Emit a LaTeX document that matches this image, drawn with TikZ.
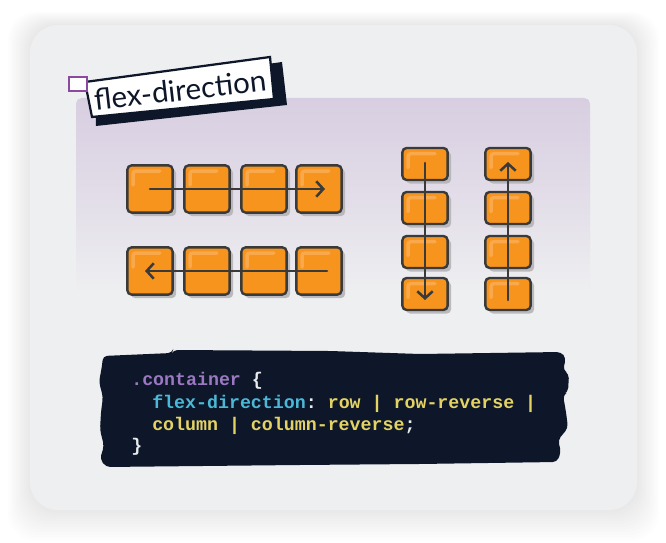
\documentclass[tikz,border=0pt]{standalone}
\usepackage{fontspec}
\setmainfont{Lato}
\setmonofont{Liberation Mono}
\usetikzlibrary{calc,arrows.meta,shadows}
\definecolor{cardgray}{HTML}{EEEFF1}
\definecolor{panelpurple}{HTML}{D8CEE1}
\definecolor{boxorange}{HTML}{F7941D}
\definecolor{boxlight}{HTML}{F9A94B}
\definecolor{boxshadow}{HTML}{B4B4B9}
\definecolor{inkgray}{HTML}{3A3A3A}
\definecolor{navy}{HTML}{0D1729}
\definecolor{tagpurple}{HTML}{8C4A9E}
\definecolor{codepurple}{HTML}{9A78C2}
\definecolor{codecyan}{HTML}{4CB8D7}
\definecolor{codeyellow}{HTML}{E4D263}
\definecolor{codewhite}{HTML}{E9EAEC}
\def\tok#1#2{{\color{#1}#2}}
\tikzset{
	flexbox/.style={draw=inkgray, line width=1.7pt, fill=boxorange, rounded corners=3pt, minimum width=1.13cm, minimum height=1.18cm, inner sep=0pt,
		drop shadow={shadow xshift=2.5pt, shadow yshift=-2.5pt, fill=boxshadow, opacity=0.9},
		path picture={\draw[boxlight, line width=2.5pt, line cap=round, rounded corners=2pt] ($(path picture bounding box.north west)+(4pt,-14pt)$) -- ($(path picture bounding box.north west)+(4pt,-4pt)$) -- ($(path picture bounding box.north east)+(-9pt,-4pt)$);}},
	colbox/.style={flexbox, minimum height=0.8cm},
	flow/.style={draw=inkgray, line width=1.8pt, line cap=round, -{Straight Barb[length=5pt, width=11pt, line width=1.8pt]}},
	codeline/.style={anchor=base west, inner sep=0pt, font=\ttfamily\bfseries\fontsize{13}{13}\selectfont}
}
\begin{document}
\begin{tikzpicture}[x=0.025cm, y=-0.025cm]
	\useasboundingbox (0,0) rectangle (666,543);
	\fill[white] (0,0) rectangle (666,543);
	
	\foreach \s in {2,4,...,22}
		\fill[black, opacity=0.006, rounded corners=0.7cm] (30-\s,25-\s+0.4*\s) rectangle (637+\s,510+\s+0.4*\s);
	\fill[cardgray, rounded corners=0.7cm] (30,25) rectangle (637,510);
	
	\shade[top color=panelpurple, bottom color=cardgray, middle color=panelpurple!55!cardgray, rounded corners=4pt] (76,98) rectangle (590,292);
	
	\fill[navy] (95,88) -- (282,62) -- (287,105) -- (96,126) -- cycle;
	\draw[navy, line width=1.6pt, fill=white] (85,82) -- (270,57) -- (274,99) -- (92,117) -- cycle;
	\node[rotate=6.5, text=navy, font=\fontsize{21}{21}\selectfont] (title) at (180,90) {flex-direction};
	\draw[tagpurple, line width=1.5pt, fill=white] (69,77) rectangle (87,91);
	
	\node[flexbox] (r1a) at (150,189) {};
	\node[flexbox] (r1b) at (207,189) {};
	\node[flexbox] (r1c) at (264,189) {};
	\node[flexbox] (r1d) at (319,189) {};
	\draw[flow] (r1a.center) -- ($(r1d.center)+(6,0)$);
	
	\node[flexbox] (r2a) at (150,271) {};
	\node[flexbox] (r2b) at (207,271) {};
	\node[flexbox] (r2c) at (264,271) {};
	\node[flexbox] (r2d) at (319,271) {};
	\draw[flow] ($(r2d.center)+(8,0)$) -- ($(r2a.center)+(-5,0)$);
	
	\node[colbox] (c1a) at (425,164) {};
	\node[colbox] (c1b) at (425,208) {};
	\node[colbox] (c1c) at (425,252) {};
	\node[colbox] (c1d) at (425,294) {};
	\draw[flow] ($(c1a.center)+(0,-1)$) -- ($(c1d.center)+(0,6)$);
	
	\node[colbox] (c2a) at (508,164) {};
	\node[colbox] (c2b) at (508,208) {};
	\node[colbox] (c2c) at (508,252) {};
	\node[colbox] (c2d) at (508,294) {};
	\draw[flow] ($(c2d.center)+(0,6)$) -- ($(c2a.center)+(0,-2)$);
	
	\fill[navy, rounded corners=3pt] (103,356) -- (172,353) -- (173,350) -- (330,351) -- (420,354) -- (561,352) -- (566,358) -- (563,370) -- (569,374) -- (568,392) -- (563,395) -- (566,412) -- (568,428) -- (558,440) -- (561,452) -- (557,462) -- (420,464) -- (300,465) -- (106,467) -- (100,459) -- (104,446) -- (100,430) -- (101,412) -- (103,397) -- (99,382) -- (102,366) -- cycle;
	
	\node[codeline] (line1) at (131,386) {\tok{codepurple}{.container} \tok{codewhite}{\{}};
	\node[codeline] (line2) at (152,409) {\tok{codecyan}{flex-direction}\tok{codewhite}{:} \tok{codeyellow}{row | row-reverse |}};
	\node[codeline] (line3) at (152,431) {\tok{codeyellow}{column | column-reverse}\tok{codewhite}{;}};
	\node[codeline] (line4) at (131,452) {\tok{codewhite}{\}}};
\end{tikzpicture}
\end{document}
